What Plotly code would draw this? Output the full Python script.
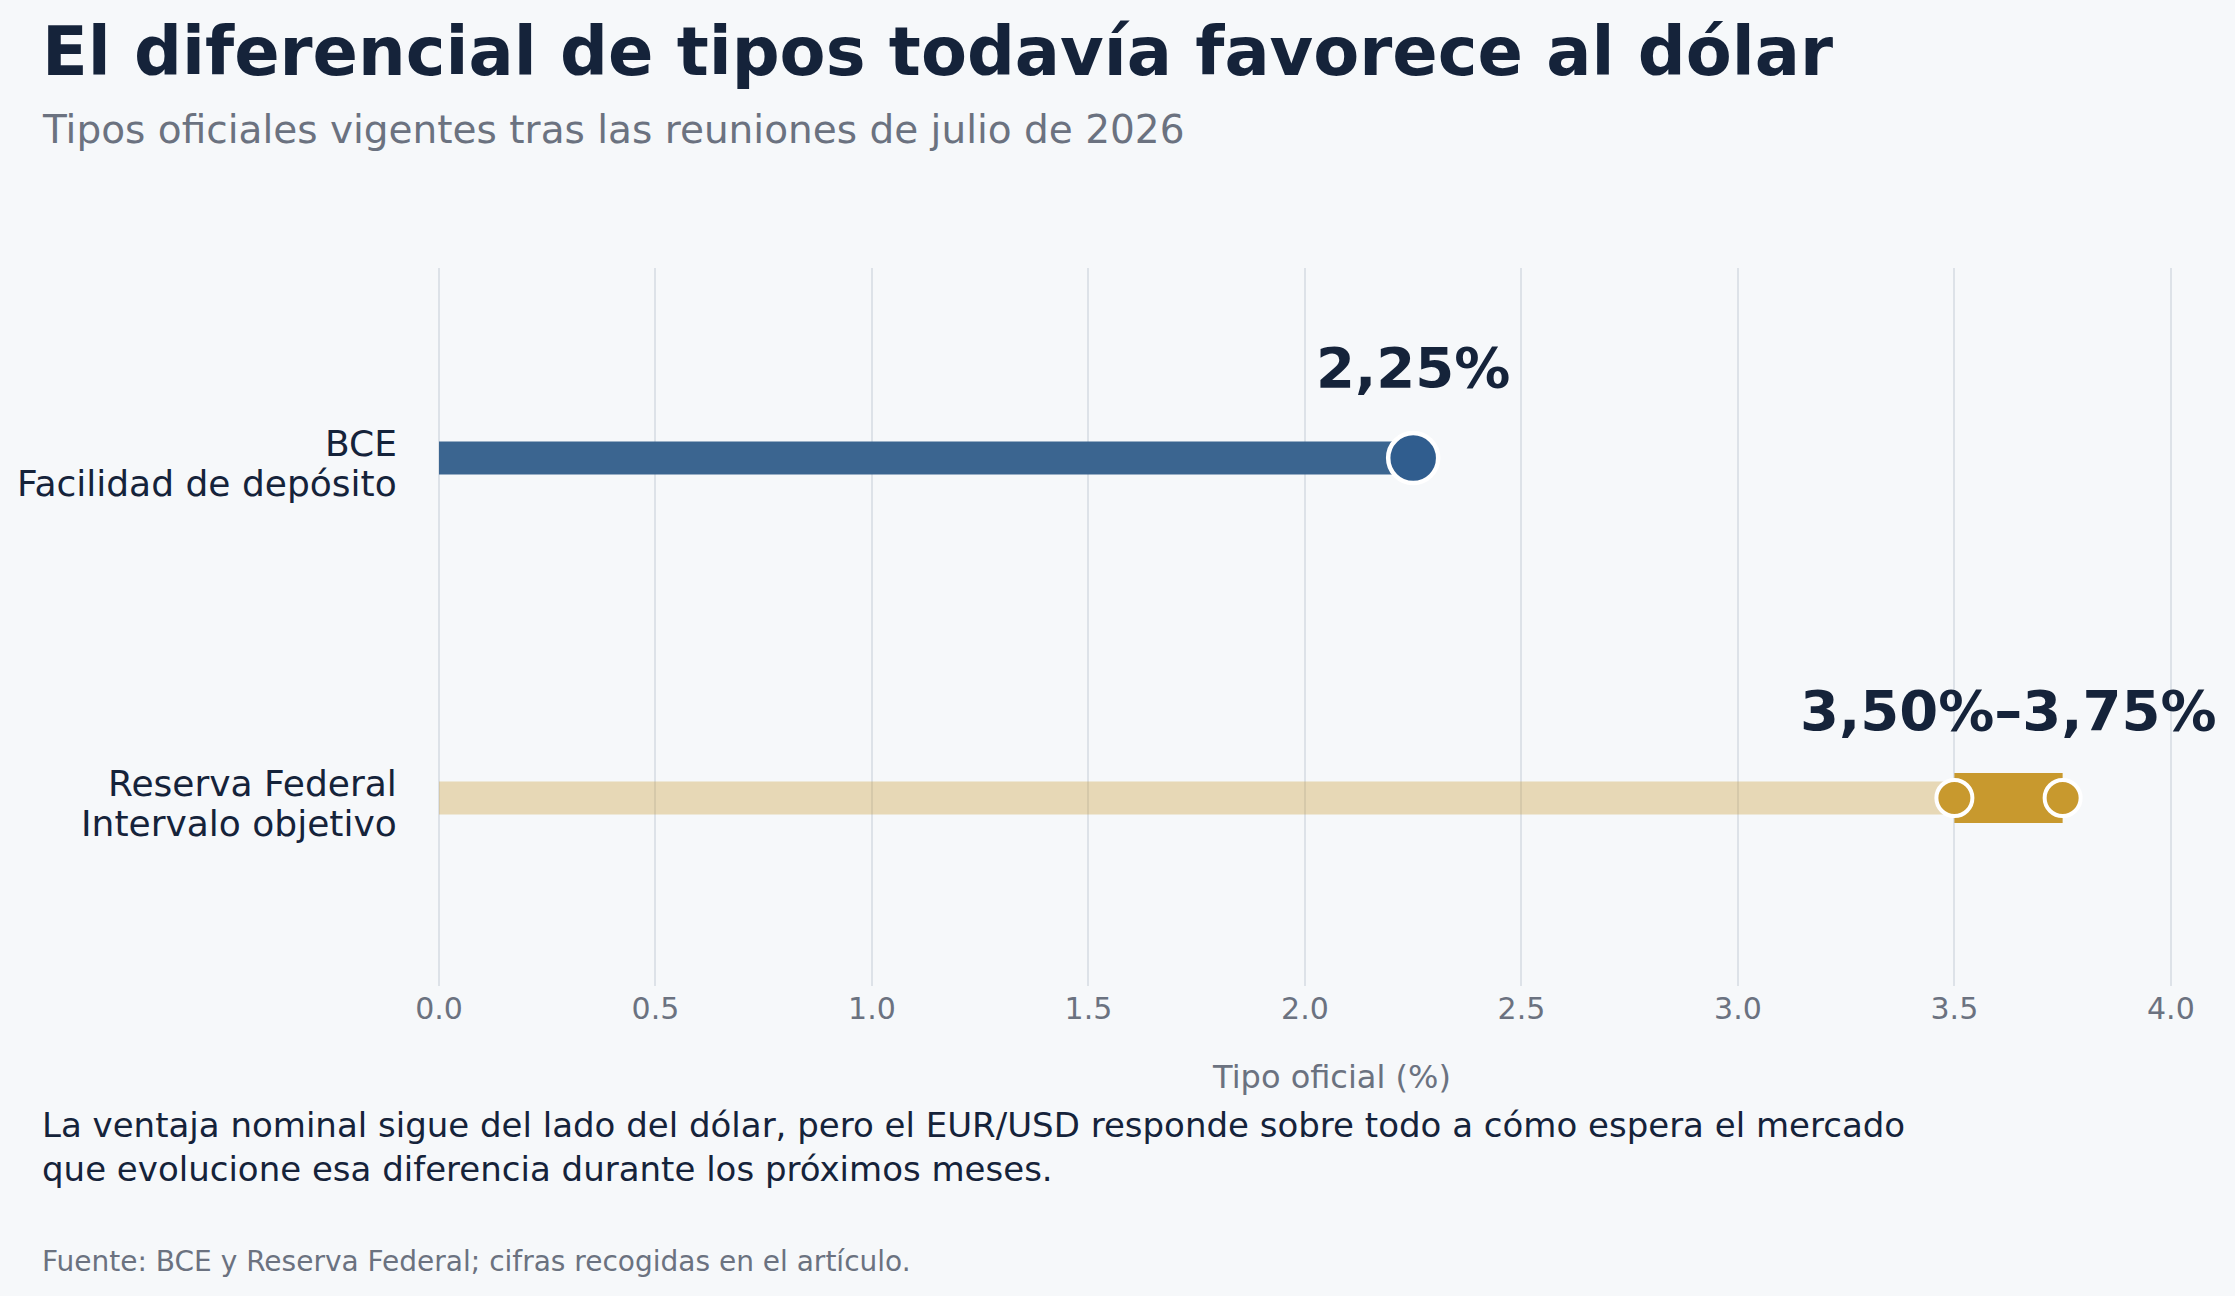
import plotly.graph_objects as go

# --- data ---
categories = ["Reserva Federal<br>Intervalo objetivo", "BCE<br>Facilidad de depósito"]
ecb_rate = 2.25
fed_low = 3.50
fed_high = 3.75
ecb_label = "2,25%"
fed_label = "3,50%–3,75%"
x_ticks = [0.0, 0.5, 1.0, 1.5, 2.0, 2.5, 3.0, 3.5, 4.0]

title = "El diferencial de tipos todavía favorece al dólar"
subtitle = "Tipos oficiales vigentes tras las reuniones de julio de 2026"
note = ("La ventaja nominal sigue del lado del dólar, pero el EUR/USD responde sobre todo a cómo espera el mercado<br>"
        "que evolucione esa diferencia durante los próximos meses.")
source = "Fuente: BCE y Reserva Federal; cifras recogidas en el artículo."

# colours
BG = "#f6f8fa"
NAVY = "#15233a"
GRAY = "#6b7280"
GRID = "#dde2e8"
BLUE_BAR = "#3b6590"
BLUE_DOT = "#305d8e"
GOLD = "#c8992e"
GOLD_LIGHT = "rgba(200,153,46,0.33)"
FONT = "DejaVu Sans"

# page geometry (px)
W, H = 2235, 1296
ML, MR, MT, MB = 439, 10, 268, 310
PW, PH = W - ML - MR, H - MT - MB


def px(x):
    return (x - ML) / PW


def py(y):
    return (H - MB - y) / PH


cat_fed, cat_ecb = categories

fig = go.Figure()

# ECB bar + dot
fig.add_trace(go.Bar(x=[ecb_rate], y=[cat_ecb], orientation="h", width=0.097,
                     marker=dict(color=BLUE_BAR, line=dict(width=0)), hoverinfo="skip"))
# Fed background up to the lower bound
fig.add_trace(go.Bar(x=[fed_low], y=[cat_fed], orientation="h", width=0.097,
                     marker=dict(color=GOLD_LIGHT, line=dict(width=0)), hoverinfo="skip"))
# Fed target range
fig.add_trace(go.Bar(x=[fed_high - fed_low], base=[fed_low], y=[cat_fed], orientation="h", width=0.147,
                     marker=dict(color=GOLD, line=dict(width=0)), hoverinfo="skip"))

fig.add_trace(go.Scatter(x=[ecb_rate], y=[cat_ecb], mode="markers",
                         marker=dict(size=50, color=BLUE_DOT, line=dict(color="white", width=4.5)),
                         cliponaxis=False))
fig.add_trace(go.Scatter(x=[fed_low, fed_high], y=[cat_fed, cat_fed], mode="markers",
                         marker=dict(size=36, color=GOLD, line=dict(color="white", width=4)),
                         cliponaxis=False))

# category labels, one annotation per line for tighter line spacing
for cat in categories:
    first, second = cat.split("<br>")
    for line, shift in ((first, 15), (second, -25)):
        fig.add_annotation(xref="paper", x=px(399), y=cat, yshift=shift, text=line, showarrow=False,
                           xanchor="right", yanchor="middle",
                           font=dict(family=FONT, size=36, color=NAVY))

# value labels
fig.add_annotation(x=ecb_rate, y=cat_ecb, yshift=91, text="<b>" + ecb_label + "</b>", showarrow=False,
                   font=dict(family=FONT, size=56, color=NAVY), xanchor="center", yanchor="middle")
fig.add_annotation(x=(fed_low + fed_high) / 2, y=cat_fed, yshift=88, text="<b>" + fed_label + "</b>",
                   showarrow=False, font=dict(family=FONT, size=56, color=NAVY),
                   xanchor="center", yanchor="middle")

# headings and notes
fig.add_annotation(xref="paper", yref="paper", x=px(40), y=py(52), text="<b>" + title + "</b>",
                   showarrow=False, xanchor="left", yanchor="middle",
                   font=dict(family=FONT, size=67, color=NAVY))
fig.add_annotation(xref="paper", yref="paper", x=px(40), y=py(129), text=subtitle,
                   showarrow=False, xanchor="left", yanchor="middle",
                   font=dict(family=FONT, size=39, color=GRAY))
fig.add_annotation(xref="paper", yref="paper", x=px(40), y=py(1147), text=note, align="left",
                   showarrow=False, xanchor="left", yanchor="middle",
                   font=dict(family=FONT, size=34, color=NAVY))
fig.add_annotation(xref="paper", yref="paper", x=px(40), y=py(1261), text=source,
                   showarrow=False, xanchor="left", yanchor="middle",
                   font=dict(family=FONT, size=28, color=GRAY))

fig.update_layout(
    width=W, height=H,
    margin=dict(l=ML, r=MR, t=MT, b=MB, autoexpand=False),
    paper_bgcolor=BG, plot_bgcolor=BG,
    barmode="overlay", showlegend=False,
    font=dict(family=FONT, color=NAVY),
    xaxis=dict(range=[0, 4.125], tickvals=x_ticks, tickformat=".1f",
               showgrid=True, gridcolor=GRID, gridwidth=2,
               zeroline=True, zerolinecolor=GRID, zerolinewidth=2, showline=False,
               tickfont=dict(size=30, color=GRAY), ticklabelstandoff=2,
               title=dict(text="Tipo oficial (%)", font=dict(size=32, color=GRAY), standoff=40),
               automargin=False),
    yaxis=dict(categoryorder="array", categoryarray=categories, range=[-0.553, 1.559],
               showgrid=False, zeroline=False, showline=False, showticklabels=False,
               automargin=False),
)

# page without the default body margin, so the figure fills the window
fig.write_html("out.html", config={"displayModeBar": False},
               post_script="document.body.style.margin='0';document.body.style.background='%s';" % BG)
